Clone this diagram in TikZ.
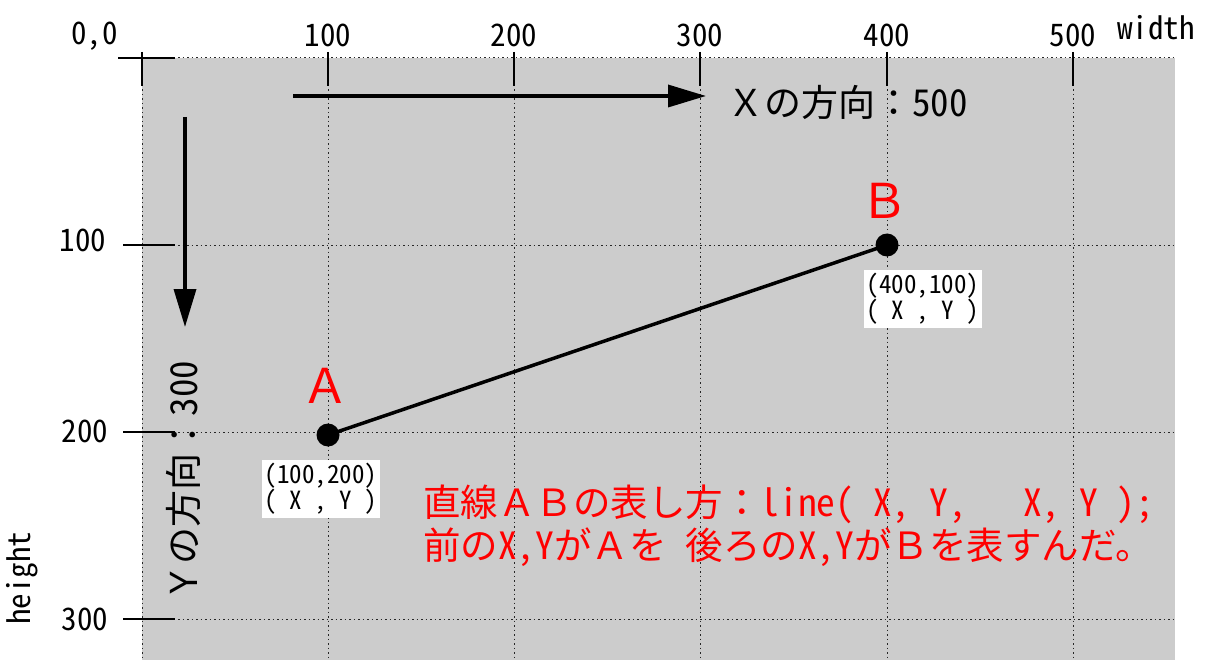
\documentclass[tikz,border=0pt]{standalone}
\usepackage{fontspec}
\setmainfont{Noto Sans CJK JP}
\newfontfamily\hw[RawFeature=+hwid]{Noto Sans CJK JP}
\usetikzlibrary{arrows.meta}
\definecolor{bggray}{HTML}{CCCCCC}
\definecolor{redtxt}{HTML}{FF0000}
\tikzset{
  griddot/.style={line width=1pt, dash pattern=on 1.5pt off 3pt, black!85},
  tickline/.style={line width=1.4pt, black},
  ticklbl/.style={font=\hw\fontsize{31}{31}\selectfont, inner sep=0pt},
  bigarrow/.style={line width=3.5pt, -{Triangle[length=38pt,width=22pt]}},
  ptdot/.style={circle, fill=black, inner sep=0pt, minimum size=23pt},
  ptname/.style={text=redtxt, font=\fontsize{48}{48}\selectfont, inner sep=0pt},
  coordbox/.style={fill=white, align=center, inner sep=3pt, font=\hw\fontsize{25}{26}\selectfont},
  dirlbl/.style={font=\fontsize{37}{37}\selectfont, inner sep=0pt},
  notetxt/.style={text=redtxt, align=left, inner sep=0pt, font=\fontsize{37.5}{43}\selectfont}
}
\begin{document}
\begin{tikzpicture}[x=1pt,y=-1pt]
\useasboundingbox (0,0) rectangle (1206,660);
\fill[bggray] (142,58) rectangle (1175,660);
% grid
\foreach \x in {142,328,514,700,887,1073} \draw[griddot] (\x,58) -- (\x,660);
\foreach \y in {58,245,432,619} \draw[griddot] (142,\y) -- (1175,\y);
% ticks
\foreach \x in {142,328,514,700,887,1073} \draw[tickline] (\x,52) -- (\x,86);
\draw[tickline] (118,58) -- (175,58);
\foreach \y in {245,432,619} \draw[tickline] (123,\y) -- (175,\y);
% tick labels
\node[ticklbl, anchor=east] (l00) at (118,36) {0,0};
\node[ticklbl] (lx1) at (328,35) {100};
\node[ticklbl] (lx2) at (514,35) {200};
\node[ticklbl] (lx3) at (700,35) {300};
\node[ticklbl] (lx4) at (887,35) {400};
\node[ticklbl] (lx5) at (1073,35) {500};
\node[ticklbl, anchor=west] (lw) at (1117,28) {width};
\node[ticklbl] (ly1) at (83,240) {100};
\node[ticklbl] (ly2) at (85,431) {200};
\node[ticklbl] (ly3) at (85,619) {300};
\node[ticklbl, rotate=90] (lh) at (22,578) {height};
% direction arrows
\coordinate (xs) at (293,96);
\coordinate (xe) at (706,96);
\draw[bigarrow] (xs) -- (xe);
\node[dirlbl, anchor=west] (xl) at (727,102) {Ｘの方向：{\hw 500}};
\coordinate (ys) at (185,117);
\coordinate (ye) at (185,327);
\draw[bigarrow] (ys) -- (ye);
\node[dirlbl, rotate=90] (yl) at (183,481) {Ｙの方向：{\hw 300}};
% points and segment
\draw[line width=3.5pt] (328,435) -- (887,245);
\node[ptdot] (A) at (328,435) {};
\node[ptdot] (B) at (887,245) {};
\node[ptname] (An) at (325,386) {Ａ};
\node[ptname] (Bn) at (884,201) {Ｂ};
\node[coordbox] (Ac) at (321,489) {(100,200)\\( X , Y )};
\node[coordbox] (Bc) at (923,299) {(400,100)\\( X , Y )};
% note
\node[notetxt, anchor=north west] (note) at (423,485) {直線ＡＢの表し方：{\hw line( X, Y,\ \ \ X, Y );}\\前の{\hw X,Y}がＡを{\hw\ }後ろの{\hw X,Y}がＢを表すんだ。};
\end{tikzpicture}
\end{document}
